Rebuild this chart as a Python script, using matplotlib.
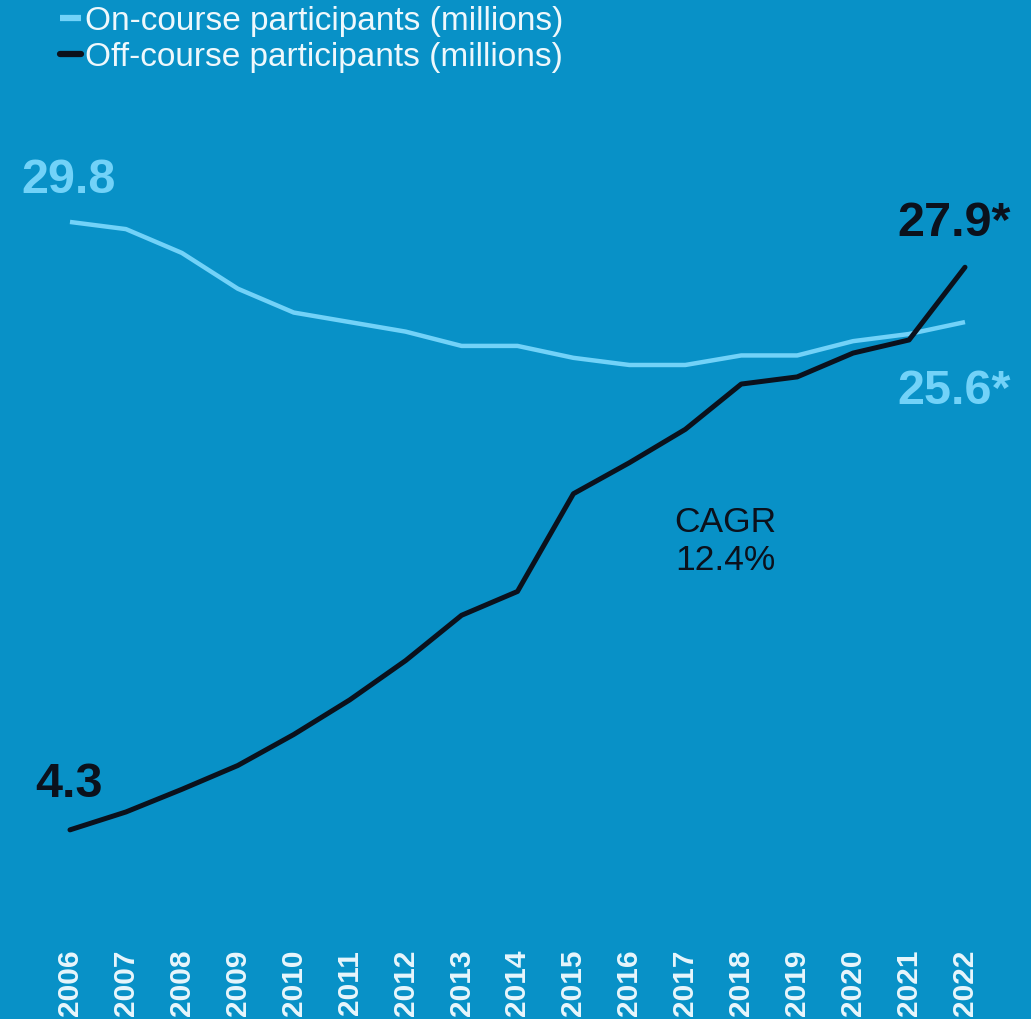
import matplotlib
matplotlib.use("Agg")
import matplotlib.pyplot as plt

years = list(range(2006, 2023))
on_course = [29.8, 29.5, 28.5, 27.0, 26.0, 25.6, 25.2, 24.6, 24.6, 24.1, 23.8, 23.8, 24.2, 24.2, 24.8, 25.1, 25.6]
off_course = [4.3, 5.05, 6.0, 7.0, 8.3, 9.75, 11.4, 13.3, 14.3, 18.4, 19.7, 21.1, 23.0, 23.3, 24.3, 24.85, 27.9]
tick_labels = [str(y) for y in years]

BG = "#0891C7"
LIGHT = "#72D2F8"
DARK = "#0B111C"

plt.rcParams['font.family'] = ['Liberation Sans', 'DejaVu Sans']

fig = plt.figure(figsize=(10.31, 10.19), dpi=100, facecolor=BG)
ax = fig.add_axes([0, 79/1019, 1, 940/1019])
ax.set_facecolor(BG)

ax.plot(years, on_course, color=LIGHT, lw=3.2, solid_joinstyle='round', solid_capstyle='butt',
        label="On-course participants (millions)")
ax.plot(years, off_course, color=DARK, lw=3.6, solid_joinstyle='round', solid_capstyle='round',
        label="Off-course participants (millions)")

ax.set_xlim(2004.749, 2023.18)
ax.set_ylim(-0.32, 39.11)

for s in ax.spines.values():
    s.set_visible(False)
ax.set_yticks([])
ax.set_xticks(years)
ax.set_xticklabels(tick_labels, rotation=90, fontsize=21.5, fontweight='bold', color="#E8F6FC", va='top')
ax.tick_params(axis='x', length=0, pad=7)

ax.text(years[0] - 0.86, on_course[0] + 0.8, f"{on_course[0]}", color=LIGHT, fontsize=35,
        fontweight='bold', ha='left', va='bottom')
ax.text(years[0] - 0.62, off_course[0] + 0.95, f"{off_course[0]}", color=DARK, fontsize=35,
        fontweight='bold', ha='left', va='bottom')
ax.text(years[-1] + 0.81, off_course[-1] + 0.9, f"{off_course[-1]}*", color=DARK, fontsize=35,
        fontweight='bold', ha='right', va='bottom')
ax.text(years[-1] + 0.81, on_course[-1] - 3.85, f"{on_course[-1]}*", color=LIGHT, fontsize=35,
        fontweight='bold', ha='right', va='bottom')
ax.text(2018.62, 16.4, "CAGR\n12.4%", color=DARK, fontsize=25.5, ha='right', va='center',
        linespacing=1.2)

leg = fig.legend(handles=ax.get_lines(), loc='upper left', bbox_to_anchor=(60/1031, 1 - 6/1019),
                 frameon=False, fontsize=24, handlelength=0.62, handletextpad=0.12,
                 labelspacing=0.14, borderaxespad=0, borderpad=0)
for t in leg.get_texts():
    t.set_color("#EEF8FC")
for h in leg.get_lines():
    h.set_linewidth(4.5)

fig.savefig("out.png", dpi=100, facecolor=BG)
